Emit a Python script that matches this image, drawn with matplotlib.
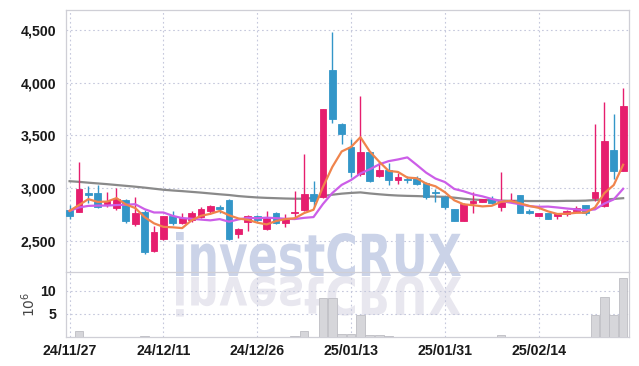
import numpy as np
import pandas as pd
import matplotlib
matplotlib.use("Agg")
import matplotlib.pyplot as plt
from matplotlib.font_manager import FontProperties
from matplotlib.textpath import TextPath
from matplotlib.patches import PathPatch
from matplotlib.transforms import Affine2D
from matplotlib.ticker import FuncFormatter

# trading days (yy/mm/dd)
dates = ["24/11/27", "24/11/28", "24/11/29", "24/12/02", "24/12/03", "24/12/04",
         "24/12/05", "24/12/06", "24/12/09", "24/12/10", "24/12/11", "24/12/12",
         "24/12/13", "24/12/16", "24/12/17", "24/12/18", "24/12/19", "24/12/20",
         "24/12/23", "24/12/24", "24/12/26", "24/12/27", "24/12/30", "25/01/02",
         "25/01/03", "25/01/06", "25/01/07", "25/01/08", "25/01/09", "25/01/10",
         "25/01/13", "25/01/14", "25/01/15", "25/01/16", "25/01/17", "25/01/20",
         "25/01/21", "25/01/22", "25/01/23", "25/01/24", "25/01/31", "25/02/03",
         "25/02/04", "25/02/05", "25/02/06", "25/02/07", "25/02/10", "25/02/11",
         "25/02/12", "25/02/13", "25/02/14", "25/02/17", "25/02/18", "25/02/19",
         "25/02/20", "25/02/21", "25/02/24", "25/02/25", "25/02/26", "25/02/27"]

opens = [2791, 2775, 2950, 2955, 2848, 2813, 2886, 2658, 2775, 2405,
         2516, 2737, 2668, 2699, 2728, 2782, 2810, 2889, 2566, 2680,
         2737, 2611, 2769, 2668, 2765, 2794, 2943, 2912, 4120, 3607,
         3386, 3133, 3344, 3111, 3174, 3079, 3085, 3092, 3047, 2959,
         2917, 2801, 2690, 2858, 2870, 2896, 2826, 2874, 2934, 2785,
         2737, 2763, 2737, 2753, 2785, 2839, 2905, 2830, 3360, 3164]
highs = [2838, 3250, 3022, 3028, 2965, 2997, 2902, 2912, 2790, 2642,
         2740, 2782, 2769, 2782, 2820, 2839, 2839, 2895, 2623, 2744,
         2750, 2785, 2775, 2753, 2975, 3323, 3069, 3750, 4477, 3614,
         3465, 3870, 3350, 3244, 3237, 3140, 3117, 3117, 3057, 2990,
         2930, 2805, 2864, 2959, 2900, 2927, 3158, 2950, 2938, 2801,
         2765, 2765, 2765, 2790, 2830, 2842, 3607, 3813, 3702, 3949]
lows = [2706, 2770, 2864, 2810, 2817, 2794, 2674, 2642, 2374, 2393,
        2510, 2649, 2658, 2680, 2718, 2753, 2769, 2509, 2532, 2595,
        2675, 2605, 2665, 2633, 2722, 2785, 2832, 2905, 3614, 3418,
        3104, 3117, 3060, 3104, 3028, 3038, 3050, 3028, 2902, 2867,
        2801, 2685, 2685, 2769, 2865, 2850, 2779, 2870, 2765, 2753,
        2735, 2708, 2712, 2737, 2770, 2744, 2880, 2820, 3085, 3160]
closes = [2737, 2990, 2931, 2826, 2880, 2902, 2690, 2760, 2395, 2585,
          2737, 2668, 2722, 2763, 2801, 2829, 2807, 2516, 2611, 2737,
          2696, 2722, 2674, 2706, 2775, 2943, 2880, 3750, 3655, 3512,
          3155, 3344, 3069, 3174, 3079, 3104, 3076, 3038, 2921, 2950,
          2826, 2690, 2848, 2880, 2893, 2855, 2880, 2886, 2769, 2769,
          2763, 2712, 2763, 2782, 2813, 2769, 2959, 3443, 3164, 3775]
# volume in millions of shares
volume = [0.05, 1.3, 0.05, 0.05, 0.05, 0.05, 0.05, 0.05, 0.2, 0.05,
          0.05, 0.05, 0.05, 0.05, 0.05, 0.05, 0.05, 0.05, 0.05, 0.05,
          0.05, 0.05, 0.05, 0.05, 0.2, 1.3, 0.1, 8.4, 8.4, 0.65,
          0.65, 4.8, 0.4, 0.4, 0.2, 0.05, 0.05, 0.05, 0.05, 0.05,
          0.05, 0.05, 0.05, 0.05, 0.05, 0.05, 0.4, 0.05, 0.05, 0.05,
          0.05, 0.05, 0.05, 0.05, 0.05, 0.05, 4.8, 8.6, 4.8, 12.8]

# moving-average values before enough in-window history exists
ma5_head = [2785, 2840, 2896, 2870]
ma10_head = [2785, 2817, 2832, 2835, 2835, 2840, 2843, 2848, 2801]
# long moving average (gray)
ma_long = [3066, 3060, 3052, 3045, 3038, 3030, 3022, 3014, 3005, 2995,
           2985, 2978, 2972, 2965, 2958, 2950, 2942, 2935, 2925, 2918,
           2912, 2908, 2905, 2902, 2900, 2900, 2908, 2925, 2938, 2948,
           2955, 2960, 2950, 2942, 2935, 2930, 2927, 2925, 2922, 2920,
           2918, 2910, 2900, 2892, 2888, 2885, 2882, 2880, 2880, 2878,
           2878, 2878, 2878, 2880, 2880, 2882, 2888, 2893, 2898, 2905]

df = pd.DataFrame({"open": opens, "high": highs, "low": lows,
                   "close": closes, "vol": volume})
ma5 = df["close"].rolling(5).mean().to_numpy()
ma5[:4] = ma5_head
ma10 = df["close"].rolling(10).mean().to_numpy()
ma10[:9] = ma10_head

x = np.arange(len(df))
up = df["close"] >= df["open"]
red, blue = "#e61e6e", "#3396c8"
colors = np.where(up, red, blue)

fig = plt.figure(figsize=(6.39, 3.66), dpi=100)
ax = fig.add_axes([0.103, 0.257, 0.881, 0.716])
axv = fig.add_axes([0.103, 0.079, 0.881, 0.178], sharex=ax)
axv.set_facecolor("none")

tick_font = FontProperties(family="Liberation Sans", weight="bold", size=10.2)
grid_kw = dict(color="#c5c8dc", linestyle=(0, (1.5, 2.5)), linewidth=0.8)

# watermark with reflection
wm_font = FontProperties(family="DejaVu Sans", weight="bold")
tp = TextPath((0, 0), "investCRUX", size=100, prop=wm_font)
ext = tp.get_extents()
sx = 285 / ext.width
sy = 44 / ext.y1
base = Affine2D().translate(-ext.x0, 0)
wm = PathPatch(tp, facecolor="#cbd3e8", edgecolor="none", zorder=0.6,
               transform=base + Affine2D().scale(sx, sy).translate(176, 90),
               clip_on=False)
wm_ref = PathPatch(tp, facecolor="#e8e7ef", edgecolor="none", zorder=0.6,
                   transform=base + Affine2D().scale(sx, -sy * 0.9).translate(176, 89),
                   clip_on=False)
ax.add_patch(wm)
ax.add_patch(wm_ref)

# candles
ax.vlines(x, df["low"], df["high"], colors=colors, linewidth=1.0, zorder=3)
body = np.maximum((df["close"] - df["open"]).abs(), 10)
bottom = np.minimum(df["open"], df["close"])
ax.bar(x, body, bottom=bottom, width=0.72, color=colors, edgecolor=colors,
       linewidth=0.6, zorder=4)

ax.plot(x, ma_long, color="#8a8a8a", linewidth=1.6, zorder=2)
ax.plot(x, ma10, color="#cc5ee8", linewidth=1.6, zorder=5)
ax.plot(x, ma5, color="#f0844c", linewidth=1.6, zorder=5)

ax.set_xlim(-0.4, 59.6)
ax.set_ylim(2206, 4690)
ax.set_yticks([2500, 3000, 3500, 4000, 4500])
ax.yaxis.set_major_formatter(FuncFormatter(lambda v, p: f"{int(v):,}"))
ax.set_axisbelow(True)
ax.grid(True, **grid_kw)

# volume
axv.bar(x, df["vol"], width=0.92, color="#d6d6da", edgecolor="#bdbdc3",
        linewidth=0.6, zorder=3)
axv.set_ylim(0, 14.1)
axv.set_yticks([5, 10])
axv.set_ylabel(r"$10^{6}$", fontsize=10, color="#444444", labelpad=2)
axv.set_axisbelow(True)
axv.grid(True, **grid_kw)

tick_pos = [0, 10, 20, 30, 40, 50]
axv.set_xticks(tick_pos)
axv.set_xticklabels([dates[i] for i in tick_pos])
ax.tick_params(axis="x", labelbottom=False, length=0)

for a in (ax, axv):
    a.tick_params(length=0, pad=7, colors="#1a1a1a")
    for lab in a.get_yticklabels() + a.get_xticklabels():
        lab.set_fontproperties(tick_font)
    for s in a.spines.values():
        s.set_color("#cfcfd6")
        s.set_linewidth(0.9)
ax.spines["bottom"].set_visible(False)
axv.tick_params(axis="x", pad=5)

fig.savefig("out.png", dpi=100)
